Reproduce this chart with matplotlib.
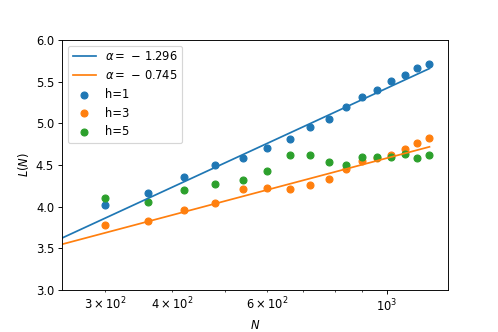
import numpy as np
import matplotlib
matplotlib.use("Agg")
import matplotlib.pyplot as plt

# system sizes
N = [300, 360, 420, 480, 540, 600, 660, 720, 780, 840, 900, 960, 1020, 1080, 1140, 1200]

# measured L(N) for each h
L_h1 = [4.02, 4.16, 4.36, 4.50, 4.58, 4.70, 4.81, 4.96, 5.05, 5.20, 5.31, 5.40, 5.51, 5.58, 5.66, 5.71]
L_h3 = [3.78, 3.83, 3.96, 4.04, 4.21, 4.22, 4.21, 4.26, 4.33, 4.45, 4.55, 4.58, 4.62, 4.69, 4.76, 4.82]
L_h5 = [4.10, 4.06, 4.20, 4.27, 4.32, 4.43, 4.62, 4.62, 4.54, 4.50, 4.59, 4.60, 4.59, 4.63, 4.58, 4.62]

# fitted lines L = -alpha * ln(N) + c
alphas = [-1.296, -0.745]
intercepts = [-3.533, -0.566]

fig, ax = plt.subplots(figsize=(6, 4), dpi=83)
fig.subplots_adjust(left=0.125, right=0.9, bottom=0.127, top=0.88)

n_fit = np.geomspace(250, 1200, 50)
fit_colors = ["C0", "C1"]
for a, c, col in zip(alphas, intercepts, fit_colors):
    ax.plot(n_fit, -a * np.log(n_fit) + c, color=col,
            label=r"$\alpha=\,-\,%.3f$" % abs(a))

ax.scatter(N, L_h1, color="C0", label="h=1")
ax.scatter(N, L_h3, color="C1", label="h=3")
ax.scatter(N, L_h5, color="C2", label="h=5")

ax.set_xscale("log")
ax.set_xlim(250, 1300)
ax.set_ylim(3.0, 6.0)
ax.set_xlabel("$N$")
ax.set_ylabel("$L(N)$")
ax.legend(loc="upper left")

fig.savefig("out.png")
